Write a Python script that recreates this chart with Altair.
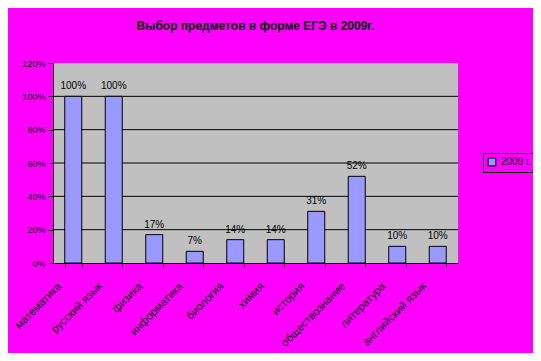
import altair as alt
import pandas as pd

subjects = ["математика", "русский язык", "физика", "информатика", "биология",
            "химия", "история", "обществознание", "литература", "английский язык"]
values = [1.00, 1.00, 0.17, 0.07, 0.14, 0.14, 0.31, 0.52, 0.10, 0.10]
series = "2009 г."
grid_values = [0.2, 0.4, 0.6, 0.8, 1.0]
y_ticks = [0, 0.2, 0.4, 0.6, 0.8, 1.0, 1.2]

df = pd.DataFrame({"subject": subjects, "value": values, "series": series})
grid_df = pd.DataFrame({"g": grid_values})

x_scale = alt.Scale(paddingInner=0.58, paddingOuter=0.29)
x_axis = alt.Axis(labelAngle=-45, labelAlign="right", labelBaseline="top",
                  labelFontSize=11, labelColor="#000000", labelFont="Liberation Sans",
                  tickBand="extent", tickColor="#000", domainColor="#000",
                  tickSize=4, labelPadding=13, labelOffset=-18,
                  labelOverlap=False, title=None)
y_scale = alt.Scale(domain=[0, 1.2], nice=False)
y_axis = alt.Axis(values=y_ticks, format=".0%", grid=False, labelFontSize=9,
                  labelColor="#000", labelFont="Liberation Sans", labelOverlap=False,
                  tickColor="#000", domainColor="#000", tickSize=5, labelPadding=3,
                  title=None)

bars = alt.Chart(df).mark_bar(stroke="#000", strokeWidth=1).encode(
    x=alt.X("subject:N", sort=subjects, scale=x_scale, axis=x_axis),
    y=alt.Y("value:Q", scale=y_scale, axis=y_axis),
    color=alt.Color("series:N", scale=alt.Scale(range=["#9999FF"]),
                    legend=alt.Legend(title=None, orient="none", legendX=430, legendY=90,
                                      strokeColor="#000", fillColor="#FF00FF", padding=4,
                                      symbolType="square", symbolStrokeColor="#000",
                                      symbolStrokeWidth=1, symbolSize=60,
                                      labelFontSize=10, labelColor="#000",
                                      labelFont="Liberation Sans"))
)

grid = alt.Chart(grid_df).mark_rule(color="#000", strokeWidth=1).encode(
    y=alt.Y("g:Q", scale=y_scale, axis=y_axis)
)

text = alt.Chart(df).mark_text(dy=-10, fontSize=10, color="#000", font="Liberation Sans").encode(
    x=alt.X("subject:N", sort=subjects, scale=x_scale, axis=x_axis),
    y=alt.Y("value:Q", scale=y_scale, axis=y_axis),
    text=alt.Text("value:Q", format=".0%")
)

chart = alt.layer(grid, bars, text).properties(
    width=405, height=200,
    title=alt.Title("Выбор предметов в форме ЕГЭ в 2009г.", fontSize=12, fontWeight="bold",
                    font="Liberation Sans", color="#000", anchor="middle", offset=26),
    background="#FF00FF",
    padding={"left": 45, "top": 55, "right": 75, "bottom": 90},
    autosize=alt.AutoSizeParams(type="none")
).configure_view(fill="#C0C0C0", stroke=None)

chart.save("out.html", embed_options={"renderer": "svg", "actions": False})
